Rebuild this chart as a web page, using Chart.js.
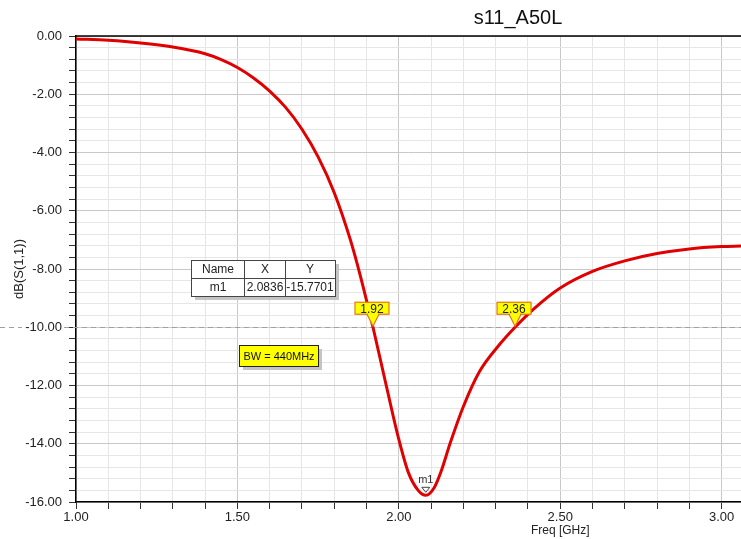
<!DOCTYPE html>
<html>
<head>
<meta charset="utf-8">
<script src="https://cdn.jsdelivr.net/npm/chart.js@4"></script>
<style>
  body { margin: 0; background: #fff; }
</style>
</head>
<body>
<canvas id="s11Chart" width="741" height="539"></canvas>
<script>
// S11 sweep
var freqGHz = [1.00, 1.10, 1.20, 1.30, 1.40, 1.45, 1.50, 1.55, 1.60, 1.65, 1.70, 1.75, 1.80, 1.85, 1.88, 1.92, 1.96, 2.00, 2.03, 2.06, 2.0836, 2.11, 2.13, 2.16, 2.20, 2.25, 2.31, 2.36, 2.42, 2.50, 2.60, 2.70, 2.80, 2.90, 3.00, 3.06];
var s11dB   = [-0.10, -0.15, -0.24, -0.38, -0.61, -0.81, -1.08, -1.44, -1.89, -2.46, -3.20, -4.15, -5.38, -7.00, -8.20, -10.00, -11.95, -13.85, -15.00, -15.60, -15.77, -15.50, -14.98, -13.95, -12.72, -11.52, -10.62, -10.00, -9.35, -8.65, -8.08, -7.72, -7.47, -7.31, -7.23, -7.21];

// markers
var bwFreqs = [1.92, 2.36];
var bwLevel = -10;
var m1 = { name: 'm1', x: 2.0836, y: -15.7701 };
var bwText = 'BW = 440MHz';

var titleText = 's11_A50L';
var xTitle = 'Freq [GHz]';
var yTitle = 'dB(S(1,1))';

var points = freqGHz.map(function (f, i) { return { x: f, y: s11dB[i] }; });

function isMult(v, step) {
  var r = v / step;
  return Math.abs(r - Math.round(r)) < 1e-6;
}

var FONT = 'Liberation Sans, Arial, sans-serif';

var overlay = {
  id: 'overlay',
  beforeDatasetsDraw: function (chart) {
    var ctx = chart.ctx, y = chart.scales.y, area = chart.chartArea;
    var py = Math.round(y.getPixelForValue(bwLevel)) + 0.5;
    ctx.save();
    ctx.strokeStyle = '#a0a0a0';
    ctx.lineWidth = 1;
    ctx.setLineDash([5, 4]);
    ctx.beginPath();
    ctx.moveTo(0, py); ctx.lineTo(22, py);
    ctx.moveTo(64, py); ctx.lineTo(area.right, py);
    ctx.stroke();
    ctx.restore();
  },
  afterDraw: function (chart) {
    var ctx = chart.ctx, xs = chart.scales.x, ys = chart.scales.y, area = chart.chartArea;
    ctx.save();

    // top border
    ctx.strokeStyle = '#000';
    ctx.lineWidth = 1.5;
    ctx.beginPath();
    ctx.moveTo(area.left, area.top); ctx.lineTo(area.right, area.top);
    ctx.stroke();

    // title
    ctx.fillStyle = '#111';
    ctx.font = '20px ' + FONT;
    ctx.textAlign = 'center';
    ctx.textBaseline = 'middle';
    ctx.fillText(titleText, 518, 18);

    // x axis title
    ctx.font = '12px ' + FONT;
    ctx.fillStyle = '#222';
    ctx.fillText(xTitle, xs.getPixelForValue(2.5), 531);

    // marker table
    var tx = 191, ty = 260, tw = 144, th = 36;
    ctx.fillStyle = '#c4c4c4';
    ctx.fillRect(tx + 4, ty + 4, tw, th);
    ctx.fillStyle = '#fff';
    ctx.fillRect(tx, ty, tw, th);
    ctx.strokeStyle = '#444';
    ctx.lineWidth = 1;
    ctx.strokeRect(tx + 0.5, ty + 0.5, tw, th);
    ctx.beginPath();
    ctx.moveTo(tx, ty + 18.5); ctx.lineTo(tx + tw, ty + 18.5);
    ctx.moveTo(244.5, ty); ctx.lineTo(244.5, ty + th);
    ctx.moveTo(285.5, ty); ctx.lineTo(285.5, ty + th);
    ctx.stroke();
    ctx.fillStyle = '#222';
    ctx.font = '12px ' + FONT;
    ctx.fillText('Name', 218, ty + 9.5);
    ctx.fillText('X', 265, ty + 9.5);
    ctx.fillText('Y', 310, ty + 9.5);
    ctx.fillText(m1.name, 218, ty + 27.5);
    ctx.fillText(m1.x.toFixed(4), 265, ty + 27.5);
    ctx.fillText(m1.y.toFixed(4), 310, ty + 27.5);

    // BW box
    var bx = 239, by = 345, bw = 79, bh = 21;
    ctx.fillStyle = '#c4c4c4';
    ctx.fillRect(bx + 4, by + 4, bw, bh);
    ctx.fillStyle = '#ffff00';
    ctx.fillRect(bx, by, bw, bh);
    ctx.strokeStyle = '#222';
    ctx.strokeRect(bx + 0.5, by + 0.5, bw, bh);
    ctx.fillStyle = '#111';
    ctx.font = '11px ' + FONT;
    ctx.fillText(bwText, bx + bw / 2 + 0.5, by + bh / 2 + 1);

    // -10 dB crossing markers
    bwFreqs.forEach(function (f) {
      var px = xs.getPixelForValue(f), py = ys.getPixelForValue(bwLevel);
      var lw = 34, lh = 12, lx = px - lw / 2 - 1, ly = py - 25;
      ctx.fillStyle = '#ffff00';
      ctx.strokeStyle = '#e07818';
      ctx.lineWidth = 1.2;
      ctx.beginPath();
      ctx.moveTo(px - 6, ly + lh);
      ctx.lineTo(px, py - 1);
      ctx.lineTo(px + 6, ly + lh);
      ctx.closePath();
      ctx.fill(); ctx.stroke();
      ctx.fillRect(lx, ly, lw, lh);
      ctx.strokeRect(lx, ly, lw, lh);
      ctx.fillStyle = '#ffff00';
      ctx.fillRect(px - 5, ly + lh - 1, 10, 2);
      ctx.fillStyle = '#222';
      ctx.font = '12px ' + FONT;
      ctx.fillText(f.toFixed(2), lx + lw / 2, ly + lh / 2 + 1);
    });

    // m1 marker
    var mx = xs.getPixelForValue(m1.x), my = ys.getPixelForValue(m1.y);
    ctx.fillStyle = '#333';
    ctx.font = '11px ' + FONT;
    ctx.fillText(m1.name, mx, my - 15);
    ctx.strokeStyle = '#444';
    ctx.lineWidth = 1;
    ctx.beginPath();
    ctx.moveTo(mx - 4, my - 8);
    ctx.lineTo(mx + 4, my - 8);
    ctx.lineTo(mx, my - 3);
    ctx.closePath();
    ctx.stroke();

    ctx.restore();
  }
};

var ctxS = document.getElementById('s11Chart').getContext('2d');
var s11Chart = new Chart(ctxS, {
  type: 'line',
  data: {
    datasets: [{
      label: 'dB(S(1,1))',
      data: points,
      borderColor: '#e00000',
      borderWidth: 3,
      pointRadius: 0,
      fill: false,
      cubicInterpolationMode: 'monotone'
    }]
  },
  options: {
    responsive: false,
    animation: false,
    layout: { padding: { top: 36, right: 0, left: 0, bottom: 0 } },
    plugins: {
      legend: { display: false },
      tooltip: { enabled: false }
    },
    scales: {
      x: {
        type: 'linear',
        min: 1.0,
        max: 3.06,
        afterFit: function (scale) { scale.height = 37; },
        border: { color: '#000', width: 1.5 },
        grid: {
          color: function (c) { return isMult(c.tick.value, 0.5) ? '#c8c8c8' : '#e6e6e6'; },
          tickColor: '#333',
          tickLength: 7
        },
        ticks: {
          stepSize: 0.1,
          includeBounds: false,
          autoSkip: false,
          maxRotation: 0,
          padding: 1,
          color: '#222',
          font: { family: FONT, size: 13 },
          callback: function (v) { return isMult(v, 0.5) ? Number(v).toFixed(2) : ''; }
        }
      },
      y: {
        min: -16,
        max: 0,
        afterFit: function (scale) { scale.width = 76; },
        border: { color: '#000', width: 1.5 },
        grid: {
          color: function (c) { return isMult(c.tick.value, 2) ? '#c8c8c8' : '#e6e6e6'; },
          tickColor: '#333',
          tickLength: 7
        },
        ticks: {
          stepSize: 0.4,
          autoSkip: false,
          padding: 7,
          color: '#222',
          font: { family: FONT, size: 13 },
          callback: function (v) { return isMult(v, 2) ? Number(v).toFixed(2) : ''; }
        },
        title: {
          display: true,
          text: yTitle,
          color: '#222',
          font: { family: FONT, size: 13 },
          padding: { top: 12, bottom: 0 }
        }
      }
    }
  },
  plugins: [overlay]
});
</script>
</body>
</html>
